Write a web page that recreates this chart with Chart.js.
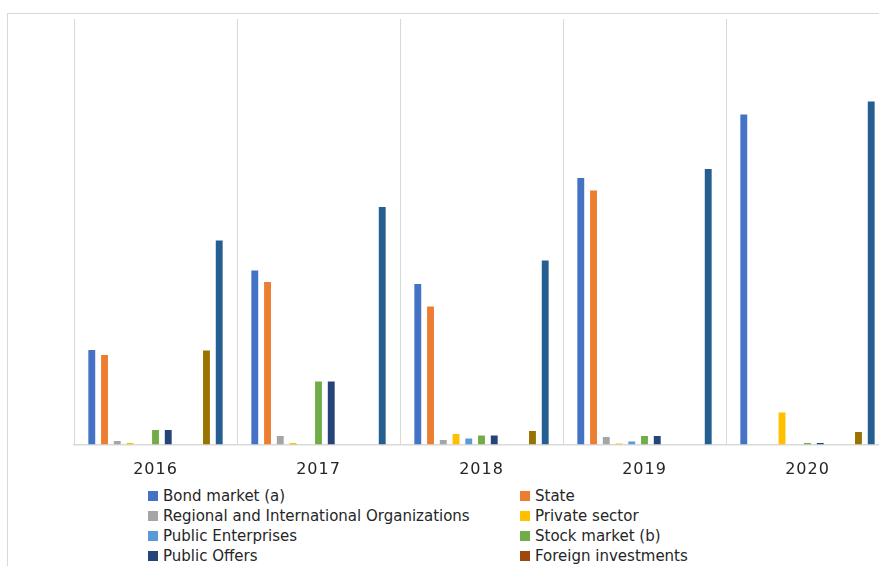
<!DOCTYPE html>
<html>
<head>
<meta charset="utf-8">
<script src="https://cdn.jsdelivr.net/npm/chart.js@4.4.1/dist/chart.umd.min.js"></script>
<style>
  html, body { margin: 0; padding: 0; overflow: hidden; background: #fff; width: 879px; height: 566px; }
  #wrap { position: relative; width: 879px; height: 566px; overflow: hidden; }
  #frame { position: absolute; left: 7px; top: 13px; width: 920px; height: 620px;
           border-left: 1px solid #d9d9d9; border-top: 1px solid #d9d9d9; }
  #c { position: absolute; left: 0; top: 0; }
  .lg { position: absolute; font-family: "DejaVu Sans", sans-serif; font-size: 15px; color: #262626; white-space: nowrap; line-height: 20px; }
  .sw { position: absolute; width: 10px; height: 10px; }
</style>
</head>
<body>
<div id="wrap">
  <div id="frame"></div>
  <canvas id="c" width="900" height="480"></canvas>
  <div id="legend"></div>
</div>
<script>
// Categories (years)
const years = ["2016", "2017", "2018", "2019", "2020"];

// Series values (relative units)
const bondMarket      = [94.5, 174, 160.5, 266.5, 330];
const stateSeries     = [89.5, 162.5, 138, 254, 0];
const regionalIntl    = [3.5, 8.5, 4.5, 7.5, 0];
const privateSector   = [1.5, 1.5, 10.5, 1, 32];
const publicEnterpr   = [0, 0, 6, 3, 0];
const stockMarket     = [14.5, 63, 9, 8.5, 1.5];
const publicOffers    = [14.5, 63, 9, 8.5, 1.5];
const foreignInvest   = [0, 0, 0, 0, 0];
const series9         = [0, 0, 0, 0, 0];
const series10        = [94, 0, 13.5, 0, 12.5];
const series11        = [204, 237.5, 184, 275.5, 343];

const seriesNames = [
  "Bond market (a)", "State", "Regional and International Organizations", "Private sector",
  "Public Enterprises", "Stock market (b)", "Public Offers", "Foreign investments",
  "Series 9", "Series 10", "Series 11"
];
const seriesData = [bondMarket, stateSeries, regionalIntl, privateSector, publicEnterpr,
  stockMarket, publicOffers, foreignInvest, series9, series10, series11];
const seriesColors = ["#4472C4", "#ED7D31", "#A5A5A5", "#FFC000", "#5B9BD5", "#70AD47",
  "#264478", "#9E480E", "#636363", "#997300", "#255E91"];
const legendCount = 8; // entries visible in the picture

const datasets = seriesData.map((d, i) => ({
  label: seriesNames[i],
  data: d,
  backgroundColor: seriesColors[i],
  borderWidth: 0,
  categoryPercentage: 0.86,
  barPercentage: 0.54
}));

const spacingPlugin = {
  id: 'spacing',
  beforeDraw(chart) { chart.ctx.letterSpacing = '1px'; },
  afterDraw(chart) { chart.ctx.letterSpacing = '0px'; }
};

const chart = new Chart(document.getElementById('c'), {
  type: 'bar',
  data: { labels: years, datasets },
  options: {
    responsive: false,
    animation: false,
    layout: { padding: { left: 74, right: 11, top: 19, bottom: 0.5 } },
    plugins: { legend: { display: false }, tooltip: { enabled: false } },
    scales: {
      x: {
        offset: true,
        grid: { offset: true, color: '#d9d9d9', lineWidth: 1, drawTicks: false },
        border: { display: true, color: '#d9d9d9', width: 1.5 },
        ticks: { color: '#262626', padding: 16, font: { family: 'DejaVu Sans', size: 16 } },
        afterFit(s) { s.height = 35; }
      },
      y: { display: false, min: 0, max: 425.5 }
    }
  },
  plugins: [spacingPlugin]
});

// Two-column legend built from the chart's datasets
const lg = document.getElementById('legend');
const rows0 = 496, rowStep = 20;
chart.data.datasets.slice(0, legendCount).forEach((ds, i) => {
  const col = i % 2, row = Math.floor(i / 2);
  const cy = rows0 + row * rowStep;
  const sx = col === 0 ? 148 : 520;
  const sw = document.createElement('div');
  sw.className = 'sw';
  sw.style.left = sx + 'px';
  sw.style.top = (cy - 5) + 'px';
  sw.style.background = ds.backgroundColor;
  lg.appendChild(sw);
  const t = document.createElement('div');
  t.className = 'lg';
  t.style.left = (sx + 15) + 'px';
  t.style.top = (cy - 10) + 'px';
  t.textContent = ds.label;
  lg.appendChild(t);
});
</script>
</body>
</html>
